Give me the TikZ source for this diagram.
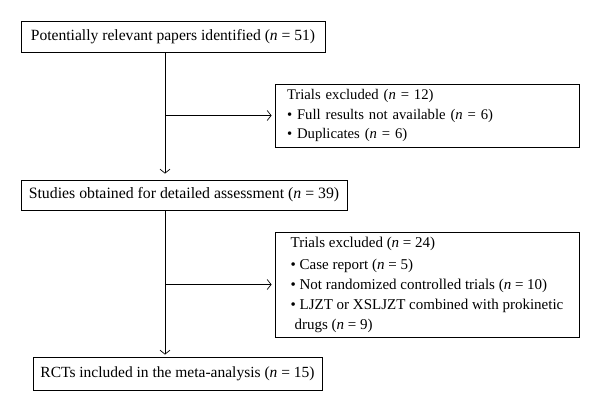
\documentclass[tikz,border=0pt]{standalone}
\usepackage{fontspec}
\setmainfont{Liberation Serif}
\usetikzlibrary{arrows.meta}
\newcommand{\nn}{\textit{n}}
\begin{document}
\begin{tikzpicture}[x=1pt,y=-1pt,
  box/.style={draw, line width=0.8pt, inner sep=0pt, font=\fontsize{15.5}{19}\selectfont},
  exbox/.style={box, align=left, font=\fontsize{15}{20}\selectfont},
  arr/.style={-{Straight Barb[length=4pt,width=10pt]}, line width=0.7pt}]
\useasboundingbox (0,0) rectangle (600,413);
\node[box, minimum width=304pt, minimum height=31pt, font=\fontsize{15.6}{18}\selectfont] (b1) at (173,36.5)
  {Potentially relevant papers identified (\nn{} = 51)};
\node[exbox, text width=280pt, inner xsep=12pt, minimum height=63pt, font=\fontsize{14.7}{19.2}\selectfont] (b2) at (427,115.5)
  {Trials excluded (\nn{} = 12)\\
   \textbullet\ Full results not available (\nn{} = 6)\\
   \textbullet\ Duplicates (\nn{} = 6)};
\node[box, minimum width=326pt, minimum height=30pt, font=\fontsize{15.8}{19}\selectfont] (b3) at (184,195)
  {Studies obtained for detailed assessment (\nn{} = 39)};
\node[exbox, minimum width=304pt, minimum height=105pt] (b4) at (427,284.5)
  {Trials excluded (\nn{} = 24)\\[2pt]
   \textbullet\ Case report (\nn{} = 5)\\
   \textbullet\ Not randomized controlled trials (\nn{} = 10)\\
   \textbullet\ LJZT or XSLJZT combined with prokinetic\\
   \hspace{4pt}drugs (\nn{} = 9)};
\node[box, minimum width=289pt, minimum height=33pt] (b5) at (177.5,373.5)
  {RCTs included in the meta-analysis (\nn{} = 15)};
\coordinate (t1) at (165,0 |- b1.south);
\coordinate (e1) at (165,0 |- b3.north);
\coordinate (j1) at (165,0 |- b2.west);
\coordinate (t2) at (165,0 |- b3.south);
\coordinate (e2) at (165,0 |- b5.north);
\coordinate (j2) at (165,0 |- b4.west);
\draw[arr, shorten >=6pt] (t1) -- (e1);
\draw[arr, shorten >=3pt] (j1) -- (b2.west);
\draw[arr, shorten >=2pt] (t2) -- (e2);
\draw[arr, shorten >=3pt] (j2) -- (b4.west);
\end{tikzpicture}
\end{document}
